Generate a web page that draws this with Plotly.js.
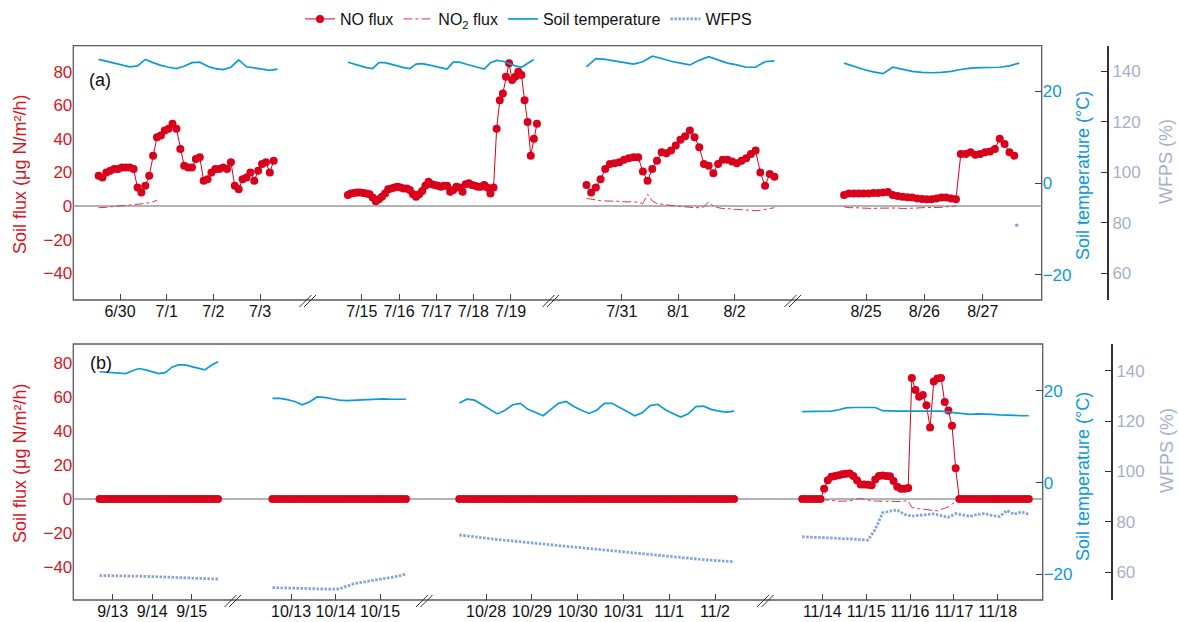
<!DOCTYPE html>
<html><head><meta charset="utf-8">
<script src="https://cdn.plot.ly/plotly-3.0.1.min.js"></script>
<style>html,body{margin:0;padding:0;background:#fff}#chart{width:1178px;height:622px}</style>
</head><body><div id="chart"></div>
<script>
// ---------- DATA (panel a) ----------
const startA1 = '2016-06-29 13:00';
const noA1 = [18,17,20,21,22,22,23,23,23,22, 11,8,12,18,30,41,42,45,46,49, 46,34,24,23,23,28,29,15,16,20, 22,22,23,22,26,12,10,16,17,20, 15,21,25,26,20,27];
const no2A1 = [-1,-1,-0.8,-0.5,-0.3,0,0,0.3,0.5,0.5,1,1,1.5,2,2.5,3.5];
const tempA1 = [27.0,26.6,26.1,25.8,25.4,25.6,27.0,26.3,25.7,25.3, 25.0,25.5,26.3,26.4,25.5,25.0,24.8,25.3,26.9,25.4, 25.2,24.9,24.6,24.9];

const startA2 = '2016-07-14 15:00';
const noA2 = [6.5,7.5,7.8,8,8,7.8,7.5,7,5,2.8, 4,5.5,7.5,10,10.5,11,11.5,11,10.5,10.5, 9.5,7,5.5,7,9,12,14.5,13,12.5,12, 11.5,12,12,8.5,9.5,11.5,11,8.5,13,13.5, 12.5,12,11.5,11.5,12.5,11,7.5,11,46,63, 67,77,85,75,77,80,78,63,50,30, 40,49];
const tempA2 = [26.4,26.0,25.6,25.2,25.0,26.3,26.3,26.0,25.6,25.2, 25.0,26.0,26.1,25.8,25.5,25.1,24.9,26.4,26.4,26.0, 25.6,25.2,24.9,26.3,26.8,26.6,26.1,25.6,25.3,26.2, 27.0];

const startA3 = '2016-07-30 09:00';
const noA3 = [12.5,8,11,16,22,25,25.5,26,27.5,28.5, 29,29,20.5,15,22,27,32,31.5,33,36, 39.5,41.5,45,41,35,25,24,19.5,25,27.5, 27.5,26.5,25.5,27,28.5,31,33,20,12,19, 17.5];
const no2A3 = [4.5,4,3.5,3.2,3,3,2.8,2.8,2.5,2.7, 2.5,2.2,1.5,7,3,1.5,1,0.5,0.3,0, -0.3,-0.5,-0.5,-1,-1,-0.5,2.5,0,-1,-1.5, -1.5,-2,-2,-2.3,-2.5,-2.7,-2.8,-2.5,-2,-1.5, -1];
const tempA3 = [25.4,27.2,27.0,26.7,26.3,26.0,26.5,27.7,27.2,26.6, 26.2,25.8,26.8,27.6,26.9,26.2,25.8,25.3,25.3,26.5, 26.7];

const startA4 = '2016-08-24 15:00';
const noA4 = [6.5,7.5,7.5,7.5,7.5,7.5,7.8,7.8,8,8.3, 6.5,6,5.5,5.2,5,4.5,4.2,4,4,4.5, 5,5,4.5,4,31,31,32,30.5,31,32, 32.5,34,40,37,32,30];
const no2A4 = [-0.5,-1,-1,-1.2,-1.3,-1.5,-1.5,-1.3,-1.2,-1, -1,-1.2,-1.5,-1.5,-1.3,-1.2,-1,-1,-1.2,-1, -0.8,-0.5,-0.3,0];
const tempA4 = [26.2,25.5,24.8,24.3,23.9,25.3,24.8,24.4,24.2,24.1, 24.2,24.4,24.8,25.1,25.2,25.2,25.3,25.6,26.2];
const wfpsA4Time = ['2016-08-27 14:00'];
const wfpsA4 = [79];

// ---------- DATA (panel b) ----------
const startB1 = '2016-09-12 16:00';
const noB1 = [0,0,0,0,0,0,0,0,0,0, 0,0,0,0,0,0,0,0,0,0, 0,0,0,0,0,0,0,0,0,0, 0,0,0,0,0,0,0];
const tempB1 = [24.2,24.1,24.0,23.8,23.8,24.4,24.9,24.6,24.2,23.8, 24.0,25.2,25.7,25.7,25.3,24.9,24.6,25.6,26.4];
const wfpsB1 = [58.7,58.7,58.7,58.7,58.6,58.6,58.5,58.4,58.3,58.2, 58.1,58.0,58.0,57.9,57.9,57.8,57.7,57.5,57.3];

const startB2 = '2016-10-12 14:00';
const noB2 = [0,0,0,0,0,0,0,0,0,0, 0,0,0,0,0,0,0,0,0,0, 0,0,0,0,0,0,0,0,0,0, 0,0,0,0,0,0,0];
const tempB2 = [18.4,18.4,18.1,17.7,17.0,17.6,18.7,18.6,18.3,18.0, 17.9,18.0,18.1,18.2,18.3,18.3,18.2,18.2,18.2];
const wfpsB2 = [53.9,53.8,53.7,53.6,53.5,53.5,53.4,53.4,53.3,53.4, 54.5,55.5,56.0,56.5,56.8,57.3,57.9,58.5,59.3];

const startB3 = '2016-10-27 10:00';
const noB3 = [0,0,0,0,0,0,0,0,0,0, 0,0,0,0,0,0,0,0,0,0, 0,0,0,0,0,0,0,0,0,0, 0,0,0,0,0,0,0,0,0,0, 0,0,0,0,0,0,0,0,0,0, 0,0,0,0,0,0,0,0,0,0, 0,0,0,0,0,0,0,0,0,0, 0,0,0];
const tempB3 = [17.4,18.2,18.0,17.0,16.0,15.0,15.8,17.0,17.3,16.0, 15.3,14.6,16.0,17.3,17.7,16.6,15.8,15.1,15.8,17.3, 17.3,16.4,15.5,14.6,15.3,16.8,17.1,15.9,15.1,14.3, 15.0,16.6,16.7,16.0,15.6,15.4,15.6];
const wfpsB3 = [74.8,74.4,74.0,73.7,73.3,73.0,72.7,72.4,72.1,71.8, 71.5,71.1,70.8,70.5,70.2,69.9,69.6,69.3,69.0,68.7, 68.4,68.1,67.8,67.5,67.2,66.9,66.6,66.3,66.0,65.8, 65.5,65.2,65.0,64.8,64.6,64.4,64.2];

const startB4 = '2016-11-13 13:00';
const noB4 = [0,0,0,0,0,0,6,11,13,13.5, 14,14.5,14.8,15,13.5,11,8.5,8.5,8.3,8, 11.5,13.5,13.8,13.5,13.3,10.5,7.2,6,6,6.5, 71,64,60,61,55,42,69,70.8,71,57, 52,43,18,0,0,0,0,0,0,0, 0,0,0,0,0,0,0,0,0,0, 0,0,0];
const no2B4 = [0,0,0,0,0,0,-0.5,-0.8,-1,-1.2, -1.3,-1.3,-1.2,-1,-0.5,0,0.3,-0.3,-0.8,-1, -1.2,-1.3,-1.4,-1.5,-1.5,-1.6,-1.6,-1.5,-1.2,-1, -5,-5.5,-5.8,-6,-6.3,-6.5,-6.8,-7,-6,-5.5, -4.5,-3,-1,0,0,0,0,0,0,0, 0,0,0,0,0,0,0,0,0,0, 0,0,0];
const tempB4 = [15.5,15.5,15.5,15.5,15.6,15.9,16.3,16.4,16.4,16.4, 16.4,15.7,15.6,15.6,15.6,15.6,15.6,15.6,15.6,15.6, 15.4,15.2,15.0,14.9,15.0,15.0,14.9,14.8,14.8,14.7, 14.6,14.6];
const wfpsB4 = [74.1,74.0,73.9,73.8,73.7,73.5,73.3,73.2,73.0,72.8, 77,83.6,84.3,84.7,83,82.3,82.6,83,83.2,82.5, 81.8,83.3,82.8,82.2,83,83.3,82.5,82.1,84.5,83, 84,83];

// tick labels per segment
const ticksA1 = ['6/30','7/1','7/2','7/3'];
const ticksA2 = ['7/15','7/16','7/17','7/18','7/19'];
const ticksA3 = ['7/31','8/1','8/2'];
const ticksA4 = ['8/25','8/26','8/27'];
const ticksB1 = ['9/13','9/14','9/15'];
const ticksB2 = ['10/13','10/14','10/15'];
const ticksB3 = ['10/28','10/29','10/30','10/31','11/1','11/2'];
const ticksB4 = ['11/14','11/15','11/16','11/17','11/18'];

// ---------- helpers ----------
const YEAR = 2016;
function times(start, stepH, n) {
  const t0 = Date.parse(start.replace(' ', 'T') + ':00Z');
  const out = [];
  for (let i = 0; i < n; i++) out.push(new Date(t0 + i * stepH * 3600000).toISOString().slice(0, 16).replace('T', ' '));
  return out;
}
function tv(labels) {
  return labels.map(s => { const [m, d] = s.split('/'); return YEAR + '-' + m.padStart(2, '0') + '-' + d.padStart(2, '0'); });
}
const RED = '#d9001b', RED_TXT = '#d7161f', BLUE = '#0d9ad6', WFPS_C = '#87a3d9', GRAY_TXT = '#a6b1c9';
const FONT = 'Arial, "Liberation Sans", sans-serif';

const traces = [];
const seen = {};
function add(kind, x, y, xa, ya) {
  const first = !seen[kind]; seen[kind] = true;
  let t = { type: 'scatter', x: x, y: y, xaxis: xa, yaxis: ya, legendgroup: kind, showlegend: first, hoverinfo: 'skip', cliponaxis: false };
  if (kind === 'no') Object.assign(t, { name: 'NO flux', mode: 'lines+markers', line: { color: RED, width: 1 }, marker: { color: RED, size: 8 }, legendrank: 1 });
  if (kind === 'no2') Object.assign(t, { name: 'NO<sub>2</sub> flux', mode: 'lines', line: { color: '#d8354a', width: 1, dash: 'dashdot' }, legendrank: 2 });
  if (kind === 'temp') Object.assign(t, { name: 'Soil temperature', mode: 'lines', line: { color: BLUE, width: 1.7 }, legendrank: 3 });
  if (kind === 'wfps') Object.assign(t, { name: 'WFPS', mode: 'lines', line: { color: WFPS_C, width: 2.8, dash: '2.5px,1.5px' }, legendrank: 4 });
  if (kind === 'wfpsPt') Object.assign(t, { name: 'WFPS', mode: 'markers', marker: { color: WFPS_C, size: 3.5 }, showlegend: false, legendgroup: 'wfps' });
  traces.push(t);
}
// layering: WFPS, NO2, NO, temperature
add('wfps', times(startB1, 4, wfpsB1.length), wfpsB1, 'x5', 'y6');
add('wfps', times(startB2, 4, wfpsB2.length), wfpsB2, 'x6', 'y6');
add('wfps', times(startB3, 4, wfpsB3.length), wfpsB3, 'x7', 'y6');
add('wfps', times(startB4, 4, wfpsB4.length), wfpsB4, 'x8', 'y6');
add('wfpsPt', wfpsA4Time, wfpsA4, 'x4', 'y3');

add('no2', times(startA1, 2, no2A1.length), no2A1, 'x', 'y');
add('no2', times(startA3, 2, no2A3.length), no2A3, 'x3', 'y');
add('no2', times(startA4, 2, no2A4.length), no2A4, 'x4', 'y');
add('no2', times(startB4, 2, no2B4.length), no2B4, 'x8', 'y4');

add('no', times(startA1, 2, noA1.length), noA1, 'x', 'y');
add('no', times(startA2, 2, noA2.length), noA2, 'x2', 'y');
add('no', times(startA3, 2, noA3.length), noA3, 'x3', 'y');
add('no', times(startA4, 2, noA4.length), noA4, 'x4', 'y');
add('no', times(startB1, 2, noB1.length), noB1, 'x5', 'y4');
add('no', times(startB2, 2, noB2.length), noB2, 'x6', 'y4');
add('no', times(startB3, 2, noB3.length), noB3, 'x7', 'y4');
add('no', times(startB4, 2, noB4.length), noB4, 'x8', 'y4');

add('temp', times(startA1, 4, tempA1.length), tempA1, 'x', 'y2');
add('temp', times(startA2, 4, tempA2.length), tempA2, 'x2', 'y2');
add('temp', times(startA3, 4, tempA3.length), tempA3, 'x3', 'y2');
add('temp', times(startA4, 4, tempA4.length), tempA4, 'x4', 'y2');
add('temp', times(startB1, 4, tempB1.length), tempB1, 'x5', 'y5');
add('temp', times(startB2, 4, tempB2.length), tempB2, 'x6', 'y5');
add('temp', times(startB3, 4, tempB3.length), tempB3, 'x7', 'y5');
add('temp', times(startB4, 4, tempB4.length), tempB4, 'x8', 'y5');

// ---------- layout ----------
const W = 1178, H = 622;
const px = v => v / W, py = v => 1 - v / H;
const domA = [py(300), py(45.7)], domB = [py(600), py(344)];

function xax(d0, d1, range, labels, anchor) {
  return { domain: [px(d0), px(d1)], range: range, type: 'date', anchor: anchor,
    tickvals: tv(labels), ticktext: labels, ticks: 'inside', ticklen: 6, tickcolor: '#444', tickwidth: 1,
    showline: false, showgrid: false, zeroline: false, tickfont: { size: 16, color: '#111' }, fixedrange: true };
}
function yFlux(dom, range, anchor) {
  return { domain: dom, range: range, anchor: anchor, tickvals: [-40, -20, 0, 20, 40, 60, 80], ticks: '',
    showgrid: false, zeroline: false, showline: false, tickfont: { size: 17, color: RED_TXT }, fixedrange: true };
}
function yTemp(over, range, anchor) {
  return { overlaying: over, side: 'right', anchor: anchor, range: range, tickvals: [-20, 0, 20], ticks: 'inside', ticklen: 7,
    tickcolor: '#444', showgrid: false, zeroline: false, showline: false, tickfont: { size: 17, color: BLUE }, fixedrange: true };
}
function yW(over, range, pos) {
  return { overlaying: over, side: 'right', anchor: 'free', position: pos, range: range, tickvals: [60, 80, 100, 120, 140],
    ticks: 'inside', ticklen: 6, tickcolor: '#333', showline: true, linecolor: '#333', linewidth: 2,
    showgrid: false, zeroline: false, tickfont: { size: 17, color: GRAY_TXT }, fixedrange: true };
}

const layout = {
  width: W, height: H, margin: { l: 0, r: 0, t: 0, b: 0 }, paper_bgcolor: '#fff', plot_bgcolor: 'rgba(0,0,0,0)',
  font: { family: FONT, color: '#111' },
  showlegend: true,
  legend: { orientation: 'h', x: px(300), xanchor: 'left', y: py(19), yanchor: 'middle', font: { size: 16, color: '#111' },
    bgcolor: 'rgba(0,0,0,0)', itemwidth: 30, tracegroupgap: 0 },
  xaxis:  xax(73.3, 310, ['2016-06-29 00:00', '2016-07-04 01:39'], ticksA1, 'y'),
  xaxis2: xax(310, 554, ['2016-07-13 14:35', '2016-07-20 04:00'], ticksA2, 'y'),
  xaxis3: xax(554, 795, ['2016-07-29 19:11', '2016-08-03 01:45'], ticksA3, 'y'),
  xaxis4: xax(795, 1041.7, ['2016-08-23 18:48', '2016-08-28 00:16'], ticksA4, 'y'),
  xaxis5: xax(73.3, 235, ['2016-09-12 00:04', '2016-09-16 02:19'], ticksB1, 'y4'),
  xaxis6: xax(235, 427, ['2016-10-11 17:48', '2016-10-16 01:21'], ticksB2, 'y4'),
  xaxis7: xax(427, 767, ['2016-10-26 17:05', '2016-11-03 03:15'], ticksB3, 'y4'),
  xaxis8: xax(767, 1042.7, ['2016-11-12 17:44', '2016-11-19 00:38'], ticksB4, 'y4'),
  yaxis:  yFlux(domA, [-56, 95.5], 'x'),
  yaxis2: yTemp('y', [-25.5, 30], 'x4'),
  yaxis3: yW('y', [49.5, 150], px(1108)),
  yaxis4: yFlux(domB, [-59.3, 91], 'x5'),
  yaxis5: yTemp('y4', [-25.6, 30.25], 'x8'),
  yaxis6: yW('y4', [49, 150.6], px(1112)),
  shapes: [],
  annotations: []
};

// frames
layout.shapes.push({ type: 'rect', xref: 'paper', yref: 'paper', x0: px(73.3), x1: px(1041.7), y0: domA[0], y1: domA[1], line: { color: '#5a5a5a', width: 1.3 }, layer: 'below' });
layout.shapes.push({ type: 'rect', xref: 'paper', yref: 'paper', x0: px(73.3), x1: px(1042.7), y0: domB[0], y1: domB[1], line: { color: '#5a5a5a', width: 1.3 }, layer: 'below' });
// zero lines
layout.shapes.push({ type: 'line', xref: 'paper', yref: 'y', x0: px(73.3), x1: px(1041.7), y0: 0, y1: 0, line: { color: '#9a9a9a', width: 1.5 }, layer: 'below' });
layout.shapes.push({ type: 'line', xref: 'paper', yref: 'y4', x0: px(73.3), x1: px(1042.7), y0: 0, y1: 0, line: { color: '#9a9a9a', width: 1.5 }, layer: 'below' });
// axis break marks
function brk(cx, yb) {
  [-4.5, 0].forEach(o => layout.shapes.push({ type: 'line', xref: 'paper', yref: 'paper',
    x0: px(cx - 8 + o + 2), y0: py(yb + 7), x1: px(cx + 4 + o + 2), y1: py(yb - 5), line: { color: '#333', width: 1 } }));
}
[310, 553, 795].forEach(c => brk(c, 300));
[235, 426.5, 767.5].forEach(c => brk(c, 600));

// annotations
function ann(text, x, y, color, size, angle) {
  layout.annotations.push({ text: text, xref: 'paper', yref: 'paper', x: px(x), y: py(y), xanchor: 'center', yanchor: 'middle',
    showarrow: false, textangle: angle || 0, font: { size: size, color: color, family: FONT } });
}
ann('(a)', 100, 80, '#111', 18);
ann('(b)', 101, 363, '#111', 18);
ann('Soil flux (μg N/m²/h)', 20, 175, RED_TXT, 18, -90);
ann('Soil flux (μg N/m²/h)', 20, 464, RED_TXT, 18, -90);
ann('Soil temperature (°C)', 1083, 176, BLUE, 18, -90);
ann('Soil temperature (°C)', 1083, 477, BLUE, 18, -90);
ann('WFPS (%)', 1166, 162, GRAY_TXT, 18, -90);
ann('WFPS (%)', 1167, 451, GRAY_TXT, 18, -90);

Plotly.newPlot('chart', traces, layout, { displayModeBar: false, staticPlot: true });
</script></body></html>
